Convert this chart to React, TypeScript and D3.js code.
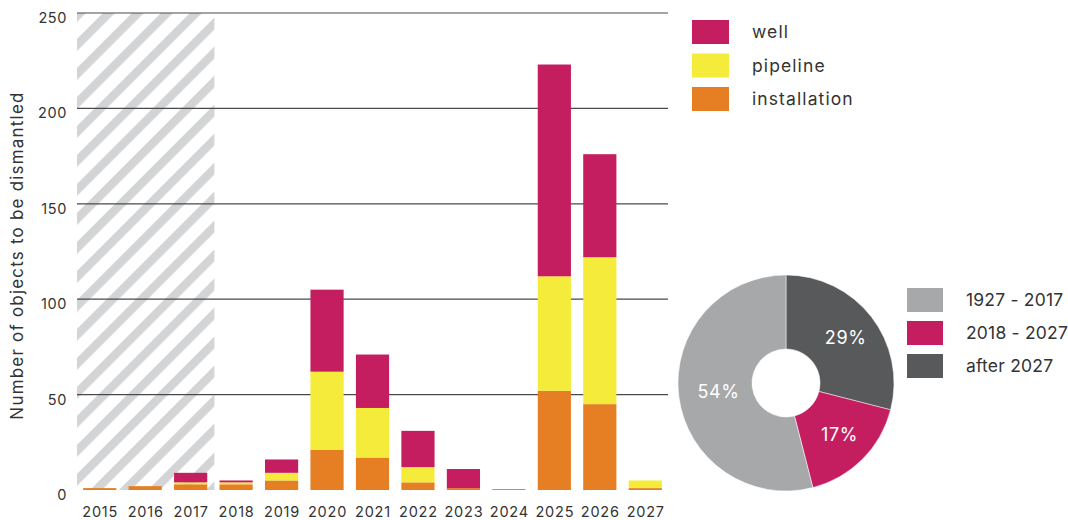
import React from "react";
import * as d3 from "d3";

const years = ["2015","2016","2017","2018","2019","2020","2021","2022","2023","2024","2025","2026","2027"];
const installation = [1, 2, 3, 3, 5, 21, 17, 4, 1, 0.5, 52, 45, 1];
const pipeline = [0, 0, 1, 1, 4, 41, 26, 8, 0, 0, 60, 77, 4];
const well = [0, 0, 5, 1, 7, 43, 28, 19, 10, 0, 111, 54, 0];
const yTicks = [0, 50, 100, 150, 200, 250];
const hatchedYears = ["2015", "2016", "2017"];

const seriesKeys = ["installation", "pipeline", "well"];
const seriesColors: Record<string, string> = { well: "#C41E61", pipeline: "#F5EB3A", installation: "#E67E24" };
const legendOrder = ["well", "pipeline", "installation"];

const pieLabels = ["after 2027", "2018 - 2027", "1927 - 2017"];
const pieValues = [29, 17, 54];
const pieColors = ["#58595B", "#C41E61", "#A7A8AA"];
const pieLegendOrder = ["1927 - 2017", "2018 - 2027", "after 2027"];

const FONT = "Inter, 'Open Sans', sans-serif";

export default function App() {
  const W = 1068, H = 520;
  const x0 = 77, x1 = 668, yTop = 13, yBase = 490;
  const x = d3.scaleBand<string>().domain(years).range([x0, x1]).paddingInner(0.27).paddingOuter(0.135);
  const y = d3.scaleLinear().domain([0, 250]).range([yBase, yTop]);

  const table = years.map((yr, i) => ({ year: yr, installation: installation[i], pipeline: pipeline[i], well: well[i] }));
  const stacked = d3.stack<any>().keys(seriesKeys)(table);

  const step = x.step();
  const hatchStart = x0;
  const hatchEnd = x0 + step * hatchedYears.length + 1;

  const pieCx = 786, pieCy = 383, rOuter = 108, rInner = 34;
  const pie = d3.pie<number>().sort(null).value((d) => d)(pieValues);
  const arc = d3.arc<d3.PieArcDatum<number>>().innerRadius(rInner).outerRadius(rOuter);
  const labelArc = d3.arc<d3.PieArcDatum<number>>().innerRadius(73).outerRadius(73);

  return (
    <svg width={W} height={H} style={{ display: "block", position: "absolute", left: 0, top: 0 }} fontFamily={FONT}>
      <defs>
        <pattern id="hatch" patternUnits="userSpaceOnUse" width={20.5} height={20.5} patternTransform="rotate(45)">
          <rect x={0} y={0} width={8.5} height={20.5} fill="#D3D4D5" />
        </pattern>
      </defs>
      <rect x={0} y={0} width={W} height={H} fill="#fff" />
      <rect x={hatchStart} y={yTop} width={hatchEnd - hatchStart} height={yBase - yTop} fill="url(#hatch)" />
      {yTicks.filter((t) => t > 0).map((t) => (
        <line key={t} x1={x0} x2={x1} y1={y(t)} y2={y(t)} stroke="#4a4a4a" strokeWidth={1.2} />
      ))}
      {yTicks.map((t) => (
        <text key={t} x={67} y={y(t) + 10} textAnchor="end" fontSize={14.5} letterSpacing={0.6} fill="#333">{t}</text>
      ))}
      <text transform={`translate(23,${(yTop + yBase) / 2 + 4}) rotate(-90)`} textAnchor="middle" fontSize={17} letterSpacing={1.2} fill="#333">
        Number of objects to be dismantled
      </text>
      {stacked.map((s) => (
        <g key={s.key} fill={seriesColors[s.key]}>
          {s.map((d, i) => (
            <rect key={i} x={x(years[i])} width={x.bandwidth()} y={y(d[1])} height={Math.max(0, y(d[0]) - y(d[1]))} />
          ))}
        </g>
      ))}
      {years.map((yr) => (
        <text key={yr} x={(x(yr) as number) + x.bandwidth() / 2 + 0.5} y={517} textAnchor="middle" fontSize={14.5} letterSpacing={0.8} fill="#333">{yr}</text>
      ))}
      {legendOrder.map((k, i) => (
        <g key={k} transform={`translate(692,${20 + i * 33.5})`}>
          <rect width={37} height={24} fill={seriesColors[k]} />
          <text x={60} y={18} fontSize={17.5} letterSpacing={1.1} fill="#333">{k}</text>
        </g>
      ))}
      <g transform={`translate(${pieCx},${pieCy})`}>
        {pie.map((p, i) => (
          <path key={i} d={arc(p) as string} fill={pieColors[i]} stroke="#fff" strokeWidth={0.5} />
        ))}
        {pie.map((p, i) => {
          const [lx, ly] = labelArc.centroid(p);
          return (
            <text key={"l" + i} x={lx + (i === 2 ? 5 : 2)} y={ly + 6} textAnchor="middle" fontSize={18} letterSpacing={0.6} fill="#fff">{pieValues[i]}%</text>
          );
        })}
      </g>
      {pieLegendOrder.map((lab, i) => {
        const idx = pieLabels.indexOf(lab);
        return (
          <g key={lab} transform={`translate(907,${288 + i * 33})`}>
            <rect width={36} height={24} fill={pieColors[idx]} />
            <text x={59} y={18} fontSize={17.5} letterSpacing={0.2} fill="#333">{lab}</text>
          </g>
        );
      })}
    </svg>
  );
}
